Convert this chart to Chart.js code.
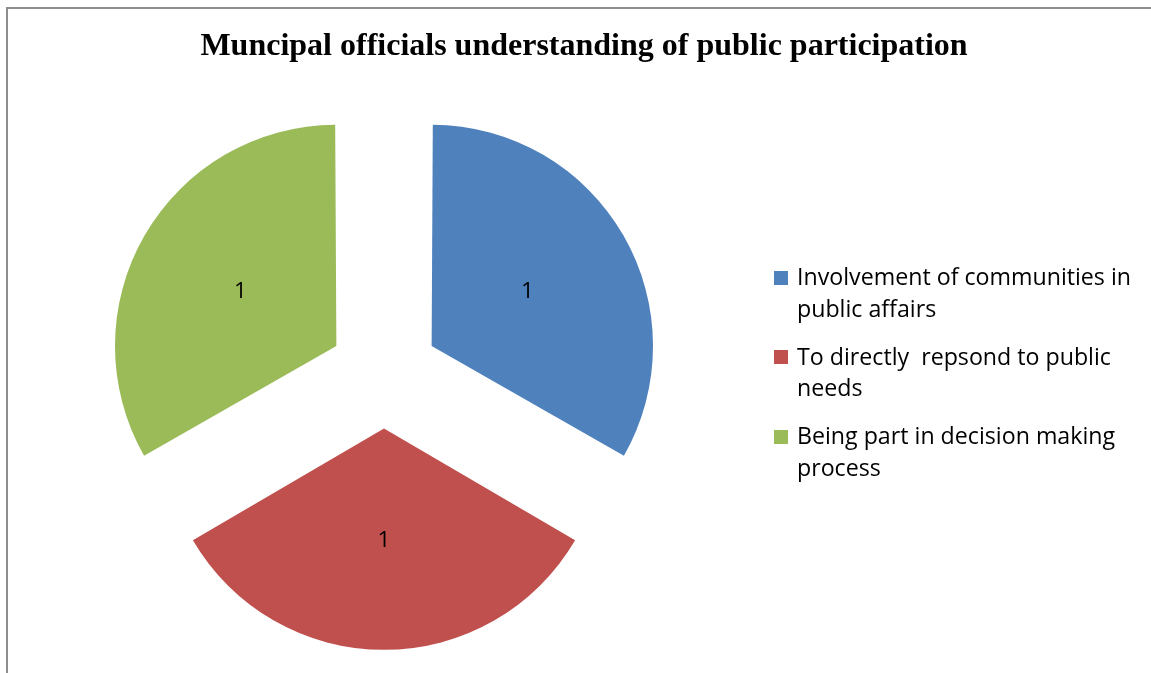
<!DOCTYPE html>
<html>
<head>
<meta charset="utf-8">
<script src="https://cdn.jsdelivr.net/npm/chart.js@4/dist/chart.umd.min.js"></script>
<style>
  html, body { margin: 0; padding: 0; background: #fff; }
  #wrap { position: relative; width: 1151px; height: 673px; overflow: hidden; }
  #frame {
    position: absolute; left: 6px; top: 7px; right: -10px; bottom: -10px;
    border-left: 2px solid #8e8e8e; border-top: 2px solid #8e8e8e;
  }
  #pie { position: absolute; left: 0; top: 0; }
  #title {
    position: absolute; left: 84px; width: 1000px; top: 28px;
    text-align: center; white-space: nowrap;
    font-family: "Liberation Serif", "Times New Roman", serif;
    font-weight: bold; font-size: 32px; line-height: 32px; color: #000;
  }
  .entry {
    position: absolute; left: 797px;
    font-family: "Open Sans", Lato, sans-serif; font-size: 23.2px;
    line-height: 31.5px; color: #000; white-space: nowrap;
  }
  .entry .sw {
    position: absolute; left: -23px; top: 9.5px; width: 14px; height: 14px;
  }
</style>
</head>
<body>
<div id="wrap">
  <div id="frame"></div>
  <canvas id="pie" width="1151" height="673"></canvas>
  <div id="title"></div>
  <div id="legend"></div>
</div>
<script>
// Chart content
const chartTitle = "Muncipal officials understanding of public participation";
const categories = [
  ["Involvement of communities in", "public affairs"],
  ["To directly  repsond to public", "needs"],
  ["Being part in decision making", "process"]
];
const values = [1, 1, 1];
const sliceColors = ["#4F81BD", "#C0504D", "#9BBB59"];

document.getElementById("title").textContent = chartTitle;

// Legend entries, one block per category
const legend = document.getElementById("legend");
categories.forEach((lines, i) => {
  const e = document.createElement("div");
  e.className = "entry";
  e.style.top = (261.2 + i * 79.5) + "px";
  const sw = document.createElement("span");
  sw.className = "sw";
  sw.style.background = sliceColors[i];
  e.appendChild(sw);
  lines.forEach((t, k) => {
    if (k) e.appendChild(document.createElement("br"));
    e.appendChild(document.createTextNode(t.replace(/ /g, "\u00a0")));
  });
  legend.appendChild(e);
});

// Chart.js draws an offset arc shifted by offset/4 along its bisector and
// grows its radius by (offset/4) * (1 - sin(circumference))
function arcGeometry(arc) {
  const p = arc.getProps(["x", "y", "startAngle", "endAngle", "outerRadius", "circumference"], true);
  const shift = (arc.options.offset || 0) / 4;
  const fix = 1 - Math.sin(Math.min(Math.PI, p.circumference || 0));
  return { p, shift, radius: p.outerRadius + shift * fix };
}

// Value labels placed halfway along each exploded slice
const sliceValueLabels = {
  id: "sliceValueLabels",
  afterDatasetsDraw(chart) {
    const ctx = chart.ctx;
    const meta = chart.getDatasetMeta(0);
    ctx.save();
    ctx.font = '22.5px "Open Sans", Lato, sans-serif';
    ctx.fillStyle = "#000";
    ctx.textAlign = "center";
    ctx.textBaseline = "middle";
    meta.data.forEach((arc, i) => {
      const g = arcGeometry(arc);
      const mid = (g.p.startAngle + g.p.endAngle) / 2;
      const d = g.shift + g.radius / 2;
      ctx.fillText(String(chart.data.datasets[0].data[i]),
        g.p.x + Math.cos(mid) * d, g.p.y + Math.sin(mid) * d + 1);
    });
    ctx.restore();
  }
};

new Chart(document.getElementById("pie"), {
  type: "pie",
  data: {
    labels: categories.map(l => l.join(" ")),
    datasets: [{
      data: values,
      backgroundColor: sliceColors,
      borderWidth: 0,
      offset: 220
    }]
  },
  options: {
    responsive: false,
    animation: false,
    events: [],
    radius: 214,
    layout: { padding: { left: 0, right: 383, top: 74, bottom: 0 } },
    plugins: {
      legend: { display: false },
      title: { display: false },
      tooltip: { enabled: false }
    }
  },
  plugins: [sliceValueLabels]
});
</script>
</body>
</html>
